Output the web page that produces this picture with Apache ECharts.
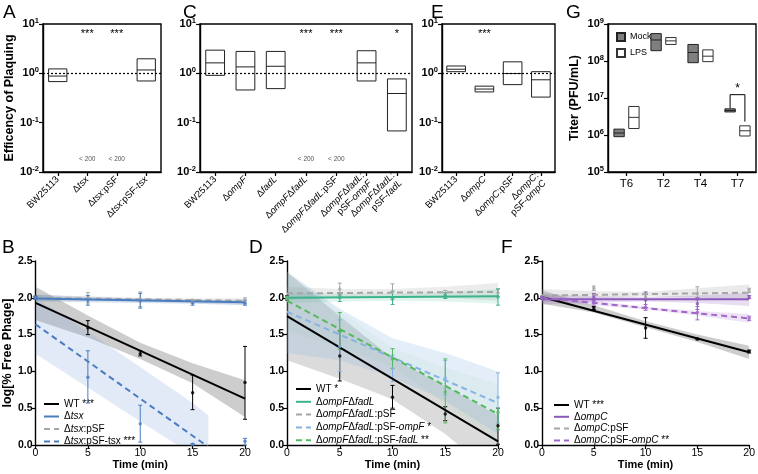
<!DOCTYPE html>
<html><head><meta charset="utf-8">
<script src="https://cdn.jsdelivr.net/npm/echarts@6/dist/echarts.min.js"></script>
<style>html,body{margin:0;padding:0;background:#fff}#c{width:758px;height:474px}</style>
</head><body><div id="c"></div>
<script>
const FONT = '"Liberation Sans", Arial, Helvetica, sans-serif';

// ===== Panel A (efficiency of plaquing) =====
const catA  = ['BW25113','Δtsx','Δtsx:pSF','Δtsx:pSF-tsx'];
const tickA = ['BW25113','Δ{i|tsx}','Δ{i|tsx}:pSF','Δ{i|tsx}:pSF-{i|tsx}'];
const topA  = [1.23, null, null, 1.97];
const medA  = [0.88, null, null, 1.17];
const botA  = [0.68, null, null, 0.70];
const starA = ['', '***', '***', ''];
const lodA  = ['', '< 200', '< 200', ''];

// ===== Panel C =====
const catC  = ['BW25113','ΔompF','ΔfadL','ΔompFΔfadL','ΔompFΔfadL:pSF','ΔompFΔfadL:pSF-ompF','ΔompFΔfadL:pSF-fadL'];
const tickC = ['BW25113','Δ{i|ompF}','Δ{i|fadL}','Δ{i|ompF}Δ{i|fadL}','Δ{i|ompF}Δ{i|fadL}:pSF','Δ{i|ompF}Δ{i|fadL}:\npSF-{i|ompF}','Δ{i|ompF}Δ{i|fadL}:\npSF-{i|fadL}'];
const topC  = [2.95, 2.78, 2.78, null, null, 2.87, 0.77];
const medC  = [1.63, 1.35, 1.39, null, null, 1.63, 0.39];
const botC  = [0.91, 0.46, 0.49, null, null, 0.70, 0.068];
const starC = ['', '', '', '***', '***', '', '*'];
const lodC  = ['', '', '', '< 200', '< 200', '', ''];

// ===== Panel E =====
const catE  = ['BW25113','ΔompC','ΔompC:pSF','ΔompC:pSF-ompC'];
const tickE = ['BW25113','Δ{i|ompC}','Δ{i|ompC}:pSF','Δ{i|ompC}:\npSF-{i|ompC}'];
const topE  = [1.41, 0.55, 1.71, 1.08];
const medE  = [1.21, 0.48, 0.99, 0.74];
const botE  = [1.08, 0.42, 0.59, 0.33];
const starE = ['', '***', '', ''];

// ===== Panel G (titer) =====
const catG    = ['T6','T2','T4','T7'];
const mockTop = [1.44e6, 5.5e8, 2.8e8, 5.1e6];
const mockMed = [1.13e6, 3.7e8, 1.7e8, 4.6e6];
const mockBot = [9.0e5, 1.9e8, 9.0e7, 4.2e6];
const lpsTop  = [5.9e6, 4.3e8, 2.0e8, 1.77e6];
const lpsMed  = [3.0e6, 3.5e8, 1.35e8, 1.3e6];
const lpsBot  = [1.5e6, 2.8e8, 9.6e7, 9.4e5];
const bracketCat = ['T7'];
const bracketY   = [[5.3e6, 1.23e7, 2.3e6]];
const bracketTxt = ['*'];

// ===== Bottom panels: time courses =====
const timePts = [0, 5, 10, 15, 20];
const fitT    = [0, 20];

// B
const B_wt = [2.00,1.59,1.24,0.71,0.85], B_wt_lo = [1.98,1.50,1.21,0.48,0.35], B_wt_hi = [2.02,1.69,1.28,0.95,1.34];
const B_wt_fit = [1.93,0.63], B_wt_ciLo = [1.70,1.46,1.17,0.84,0.38], B_wt_ciHi = [2.15,1.76,1.39,1.11,0.88];
const B_ts = [2.00,1.97,1.96,1.93,1.93], B_ts_lo = [1.98,1.90,1.86,1.90,1.90], B_ts_hi = [2.02,2.03,2.06,1.96,1.97];
const B_ts_fit = [1.99,1.94], B_ts_ciLo = [1.95,1.94,1.93,1.92,1.90], B_ts_ciHi = [2.04,2.01,1.99,1.97,1.97];
const B_ps = [2.00,2.00,1.98,1.96,1.96], B_ps_lo = [1.98,1.93,1.88,1.93,1.92], B_ps_hi = [2.02,2.07,2.08,1.98,2.00];
const B_ps_fit = [2.00,1.96], B_ps_ciLo = [1.96,1.96,1.95,1.93,1.91], B_ps_ciHi = [2.04,2.02,2.00,1.99,1.99];
const B_ct = [2.00,0.92,0.29,0.01,0.05], B_ct_lo = [1.98,0.57,0.04,0.00,0.00], B_ct_hi = [2.02,1.28,0.54,0.02,0.09];
const B_ct_fit = [1.64,-0.38];
const B_ct_ciT = [0,5,10,15,16.5], B_ct_ciLo = [1.24,0.78,0.32,-0.13,-0.27], B_ct_ciHi = [2.00,1.54,1.06,0.57,0.40];

// D
const D_wt = [2.00,1.21,0.65,0.42,0.26], D_wt_lo = [1.97,0.87,0.50,0.33,0.01], D_wt_hi = [2.03,1.55,0.81,0.52,0.50];
const D_wt_fit = [1.75,0.05], D_wt_ciLo = [1.15,0.90,0.62,0.15,-0.45], D_wt_ciHi = [2.35,1.75,1.18,0.80,0.40];
const D_dd = [2.00,2.00,1.99,2.03,2.01], D_dd_lo = [1.98,1.95,1.91,1.99,1.90], D_dd_hi = [2.02,2.05,2.09,2.07,2.12];
const D_dd_fit = [2.00,2.02], D_dd_ciLo = [1.93,1.95,1.96,1.95,1.92], D_dd_ciHi = [2.07,2.06,2.06,2.08,2.12];
const D_ps = [2.00,2.12,2.08,2.05,2.07], D_ps_lo = [1.98,2.03,1.97,2.00,2.02], D_ps_hi = [2.02,2.20,2.19,2.10,2.12];
const D_ps_fit = [2.06,2.08], D_ps_ciLo = [1.97,2.00,2.02,2.00,1.96], D_ps_ciHi = [2.15,2.12,2.12,2.15,2.20];
const D_of = [2.00,1.34,1.04,0.91,0.65], D_of_lo = [1.98,1.00,0.86,0.68,0.30], D_of_hi = [2.02,1.70,1.22,1.15,0.98];
const D_of_fit = [1.81,0.57], D_of_ciLo = [1.25,1.15,0.92,0.60,0.15], D_of_ciHi = [2.35,1.85,1.45,1.25,1.00];
const D_fl = [2.00,1.55,1.17,0.72,0.44], D_fl_lo = [1.98,1.30,1.04,0.30,0.21], D_fl_hi = [2.02,1.80,1.31,1.17,0.50];
const D_fl_fit = [1.96,0.42], D_fl_ciLo = [1.55,1.33,1.06,0.56,0.01], D_fl_ciHi = [2.37,1.82,1.32,1.05,0.83];

// F
const F_wt = [2.00,1.86,1.59,1.44,1.27], F_wt_lo = [1.98,1.84,1.45,1.43,1.25], F_wt_hi = [2.02,1.88,1.73,1.45,1.29];
const F_wt_fit = [2.01,1.26], F_wt_ciLo = [1.92,1.80,1.60,1.40,1.17], F_wt_ciHi = [2.10,1.90,1.68,1.50,1.35];
const F_oc = [2.00,2.01,1.97,1.92,2.01], F_oc_lo = [1.98,1.96,1.87,1.84,1.99], F_oc_hi = [2.02,2.06,2.08,2.00,2.03];
const F_oc_fit = [1.98,1.98], F_oc_ciLo = [1.91,1.94,1.95,1.93,1.89], F_oc_ciHi = [2.05,2.02,2.01,2.03,2.07];
const F_ps = [2.00,2.13,2.01,2.06,2.10], F_ps_lo = [1.98,2.10,1.97,1.97,2.07], F_ps_hi = [2.02,2.16,2.05,2.15,2.13];
const F_ps_fit = [2.03,2.07], F_ps_ciLo = [1.94,1.99,2.02,2.00,1.96], F_ps_ciHi = [2.12,2.09,2.08,2.13,2.18];
const F_cc = [2.00,1.94,1.87,1.80,1.72], F_cc_lo = [1.98,1.90,1.83,1.70,1.69], F_cc_hi = [2.02,1.98,1.91,1.88,1.75];
const F_cc_fit = [2.00,1.72], F_cc_ciLo = [1.96,1.90,1.84,1.76,1.66], F_cc_ciHi = [2.04,1.96,1.88,1.82,1.78];

// legend labels
const legB = ['WT ***', 'Δ{i|tsx}', 'Δ{i|tsx}:pSF', 'Δ{i|tsx}:pSF-tsx ***'];
const legD = ['WT *', 'Δ{i|ompF}Δ{i|fadL}', 'Δ{i|ompF}Δ{i|fadL}:pSF', 'Δ{i|ompF}Δ{i|fadL}:pSF-{i|ompF} *', 'Δ{i|ompF}Δ{i|fadL}:pSF-{i|fadL} **'];
const legF = ['WT ***', 'Δ{i|ompC}', 'Δ{i|ompC}:pSF', 'Δ{i|ompC}:pSF-{i|ompC} **'];

// ================= build =================
const chart = echarts.init(document.getElementById('c'), null, {renderer: 'canvas'});

const grids = [
  {left: 43,  top: 24, width: 118, height: 148},  // A
  {left: 200, top: 24, width: 212, height: 148},  // C
  {left: 442, top: 24, width: 113, height: 148},  // E
  {left: 608, top: 24, width: 148, height: 148},  // G
  {left: 33,  top: 261, width: 212, height: 184}, // B
  {left: 287, top: 261, width: 211, height: 184}, // D
  {left: 542, top: 261, width: 210, height: 184}  // F
].map((g, i) => Object.assign({show: i < 4, borderColor: '#000', borderWidth: 1.4, backgroundColor: 'transparent'}, g));

const axLine = {show: true, lineStyle: {color: '#000', width: 1.4}};
const axTick = {show: true, length: 4, lineStyle: {color: '#000', width: 1.2}};

function catX(gi, cats, ticks, fs) {
  return {
    type: 'category', gridIndex: gi, data: cats, boundaryGap: true,
    axisLine: axLine, axisTick: Object.assign({alignWithLabel: true}, axTick),
    axisLabel: {
      interval: 0, rotate: ticks ? 45 : 0, margin: ticks ? 6 : 6, fontFamily: FONT, fontSize: fs, color: '#000',
      lineHeight: fs + 1,
      formatter: (v, idx) => ticks ? ticks[idx] : v,
      rich: {i: {fontStyle: 'italic', fontFamily: FONT, fontSize: fs, color: '#000', lineHeight: fs + 1}}
    },
    splitLine: {show: false}
  };
}
function logY(gi, min, max, name, gap) {
  return {
    type: 'log', logBase: 10, gridIndex: gi, min, max,
    axisLine: axLine, axisTick: axTick, splitLine: {show: false}, minorTick: {show: false},
    name: name || '', nameLocation: 'middle', nameGap: gap || 0, nameRotate: 90,
    nameTextStyle: {fontFamily: FONT, fontSize: 12.5, fontWeight: 'bold', color: '#000'},
    axisLabel: {
      margin: 4, fontFamily: FONT, fontSize: 11, fontWeight: 'bold', color: '#000', lineHeight: 14,
      formatter: v => '10{s|' + Math.round(Math.log10(v)) + '}',
      rich: {s: {fontSize: 7.5, fontWeight: 'bold', fontFamily: FONT, color: '#000', verticalAlign: 'top', lineHeight: 9}}
    }
  };
}
function linX(gi) {
  return {
    type: 'value', gridIndex: gi, min: 0, max: 20, interval: 5,
    axisLine: axLine, axisTick: axTick, splitLine: {show: false},
    name: 'Time (min)', nameLocation: 'middle', nameGap: 14,
    nameTextStyle: {fontFamily: FONT, fontSize: 11, fontWeight: 'bold', color: '#000'},
    axisLabel: {margin: 3, fontFamily: FONT, fontSize: 10.5, color: '#000'}
  };
}
function linY(gi, name) {
  return {
    type: 'value', gridIndex: gi, min: 0, max: 2.5, interval: 0.5,
    axisLine: axLine, axisTick: axTick, splitLine: {show: false},
    name: name || '', nameLocation: 'middle', nameGap: 21, nameRotate: 90,
    nameTextStyle: {fontFamily: FONT, fontSize: 12.5, fontWeight: 'bold', color: '#000'},
    axisLabel: {margin: 3, fontFamily: FONT, fontSize: 10.5, fontWeight: 'bold', color: '#000', formatter: v => v.toFixed(1)}
  };
}

const xAxis = [
  catX(0, catA, tickA, 9.5), catX(1, catC, tickC, 9.5), catX(2, catE, tickE, 9.5), catX(3, catG, null, 11.5),
  linX(4), linX(5), linX(6)
];
const yAxis = [
  logY(0, 0.01, 10, 'Efficency of Plaquing', 22), logY(1, 0.01, 10), logY(2, 0.01, 10),
  logY(3, 1e5, 1e9, 'Titer (PFU/mL)', 27),
  linY(4, 'log[% Free Phage]'), linY(5), linY(6)
];

const series = [];

function boxSeries(gi, top, med, bot, o) {
  const data = [];
  top.forEach((t, i) => { if (t != null) data.push([i, t, med[i], bot[i]]); });
  const s = {
    type: 'custom', name: o.name, xAxisIndex: gi, yAxisIndex: gi, z: 3, silent: true,
    itemStyle: {color: o.fill, borderColor: o.stroke, borderWidth: 1},
    data,
    renderItem(params, api) {
      const x = api.value(0);
      const pT = api.coord([x, api.value(1)]);
      const pM = api.coord([x, api.value(2)]);
      const pB = api.coord([x, api.value(3)]);
      const bw = api.size([1, 1])[0];
      const cx = pT[0] + o.offset * bw, w = o.width * bw;
      return {type: 'group', children: [
        {type: 'rect', shape: {x: cx - w / 2, y: pT[1], width: w, height: pB[1] - pT[1]}, style: {fill: o.fill, stroke: o.stroke, lineWidth: 1}},
        {type: 'line', shape: {x1: cx - w / 2, y1: pM[1], x2: cx + w / 2, y2: pM[1]}, style: {stroke: o.stroke, lineWidth: 1}}
      ]};
    }
  };
  if (o.refLine) {
    s.markLine = {silent: true, symbol: 'none', label: {show: false}, animation: false,
      lineStyle: {type: [2, 2], color: '#000', width: 1.2}, data: [{yAxis: 1}]};
  }
  return s;
}
function textSeries(gi, texts, yVal, fs, color, bold) {
  const data = [];
  texts.forEach((t, i) => { if (t) data.push([i, yVal]); });
  return {
    type: 'custom', xAxisIndex: gi, yAxisIndex: gi, z: 6, silent: true, data,
    renderItem(params, api) {
      const i = api.value(0);
      const p = api.coord([i, api.value(1)]);
      return {type: 'text', x: p[0], y: p[1], style: {text: texts[i], fill: color, fontSize: fs, fontFamily: FONT, fontWeight: bold ? 'bold' : 'normal', align: 'center', verticalAlign: 'middle'}};
    }
  };
}

// top panels
series.push(boxSeries(0, topA, medA, botA, {offset: 0, width: 0.62, fill: 'rgba(255,255,255,0)', stroke: '#222', refLine: true}));
series.push(textSeries(0, starA, 6.3, 11, '#000', false));
series.push(textSeries(0, lodA, 0.018, 6.5, '#555', false));
series.push(boxSeries(1, topC, medC, botC, {offset: 0, width: 0.62, fill: 'rgba(255,255,255,0)', stroke: '#222', refLine: true}));
series.push(textSeries(1, starC, 6.3, 11, '#000', false));
series.push(textSeries(1, lodC, 0.018, 6.5, '#555', false));
series.push(boxSeries(2, topE, medE, botE, {offset: 0, width: 0.66, fill: 'rgba(255,255,255,0)', stroke: '#222', refLine: true}));
series.push(textSeries(2, starE, 6.3, 11, '#000', false));

series.push(boxSeries(3, mockTop, mockMed, mockBot, {name: 'Mock', offset: -0.2, width: 0.28, fill: '#7f7f7f', stroke: '#222'}));
series.push(boxSeries(3, lpsTop, lpsMed, lpsBot, {name: 'LPS', offset: 0.2, width: 0.28, fill: '#ffffff', stroke: '#333'}));
series.push({
  type: 'custom', xAxisIndex: 3, yAxisIndex: 3, z: 6, silent: true,
  data: bracketCat.map((c, k) => [catG.indexOf(c), bracketY[k][0], bracketY[k][1], bracketY[k][2]]),
  renderItem(params, api) {
    const x = api.value(0);
    const bw = api.size([1, 1])[0];
    const a = api.coord([x, api.value(1)]), t = api.coord([x, api.value(2)]), b = api.coord([x, api.value(3)]);
    const xl = a[0] - 0.2 * bw, xr = a[0] + 0.2 * bw;
    return {type: 'group', children: [
      {type: 'polyline', shape: {points: [[xl, a[1]], [xl, t[1]], [xr, t[1]], [xr, b[1]]]}, style: {stroke: '#000', lineWidth: 1, fill: null}},
      {type: 'text', x: a[0], y: t[1] - 6, style: {text: bracketTxt[params.dataIndex], fontSize: 12, fontFamily: FONT, fill: '#000', align: 'center', verticalAlign: 'middle'}}
    ]};
  }
});

// bottom panels
function bandSeries(gi, t, lo, hi, color) {
  return {
    type: 'custom', xAxisIndex: gi, yAxisIndex: gi, z: 1, silent: true,
    data: t.map((x, i) => [x, lo[i], hi[i]]),
    renderItem(params, api) {
      if (params.dataIndex !== 0) return;
      const pts = [];
      for (let i = 0; i < t.length; i++) pts.push(api.coord([t[i], hi[i]]));
      for (let i = t.length - 1; i >= 0; i--) pts.push(api.coord([t[i], lo[i]]));
      const cs = params.coordSys;
      return {type: 'polygon', shape: {points: pts}, style: {fill: color},
        clipPath: {type: 'rect', shape: {x: cs.x, y: cs.y, width: cs.width, height: cs.height}}};
    }
  };
}
function errSeries(gi, t, lo, hi, color) {
  return {
    type: 'custom', xAxisIndex: gi, yAxisIndex: gi, z: 4, silent: true,
    data: t.map((x, i) => [x, lo[i], hi[i]]),
    renderItem(params, api) {
      const a = api.coord([api.value(0), api.value(1)]), b = api.coord([api.value(0), api.value(2)]);
      const c = 2;
      return {type: 'group', children: [
        {type: 'line', shape: {x1: a[0], y1: a[1], x2: b[0], y2: b[1]}, style: {stroke: color, lineWidth: 1}},
        {type: 'line', shape: {x1: a[0] - c, y1: a[1], x2: a[0] + c, y2: a[1]}, style: {stroke: color, lineWidth: 1}},
        {type: 'line', shape: {x1: b[0] - c, y1: b[1], x2: b[0] + c, y2: b[1]}, style: {stroke: color, lineWidth: 1}}
      ]};
    }
  };
}
function addCurve(gi, name, color, dashed, mean, lo, hi, fit, ciT, ciLo, ciHi, bandColor) {
  series.push(bandSeries(gi, ciT, ciLo, ciHi, bandColor));
  series.push(errSeries(gi, timePts, lo, hi, color));
  series.push({
    type: 'line', name, xAxisIndex: gi, yAxisIndex: gi, z: 5, silent: true, symbol: 'none',
    data: fitT.map((x, i) => [x, fit[i]]),
    lineStyle: {color, width: 2, type: dashed ? [6, 4] : 'solid'}, itemStyle: {color}
  });
  series.push({
    type: 'scatter', xAxisIndex: gi, yAxisIndex: gi, z: 6, silent: true, symbol: 'circle', symbolSize: 3.5,
    data: timePts.map((x, i) => [x, mean[i]]), itemStyle: {color}
  });
}

const BLACK = '#000', GRAY = '#a6a6a6', BLUE = '#4a7dc0', LBLUE = '#86b3e3', TEAL = '#3bb48a', GREEN = '#55ba5e', PURPLE = '#8c58bb', LPURPLE = '#a066c9';

addCurve(4, 'B0', BLACK, false, B_wt, B_wt_lo, B_wt_hi, B_wt_fit, timePts, B_wt_ciLo, B_wt_ciHi, 'rgba(100,100,100,0.32)');
addCurve(4, 'B2', GRAY, true, B_ps, B_ps_lo, B_ps_hi, B_ps_fit, timePts, B_ps_ciLo, B_ps_ciHi, 'rgba(150,150,150,0.22)');
addCurve(4, 'B1', BLUE, false, B_ts, B_ts_lo, B_ts_hi, B_ts_fit, timePts, B_ts_ciLo, B_ts_ciHi, 'rgba(74,125,192,0.22)');
addCurve(4, 'B3', BLUE, true, B_ct, B_ct_lo, B_ct_hi, B_ct_fit, B_ct_ciT, B_ct_ciLo, B_ct_ciHi, 'rgba(120,160,215,0.22)');

addCurve(5, 'D0', BLACK, false, D_wt, D_wt_lo, D_wt_hi, D_wt_fit, timePts, D_wt_ciLo, D_wt_ciHi, 'rgba(110,110,110,0.25)');
addCurve(5, 'D2', GRAY, true, D_ps, D_ps_lo, D_ps_hi, D_ps_fit, timePts, D_ps_ciLo, D_ps_ciHi, 'rgba(150,150,150,0.18)');
addCurve(5, 'D1', TEAL, false, D_dd, D_dd_lo, D_dd_hi, D_dd_fit, timePts, D_dd_ciLo, D_dd_ciHi, 'rgba(59,180,138,0.15)');
addCurve(5, 'D3', LBLUE, true, D_of, D_of_lo, D_of_hi, D_of_fit, timePts, D_of_ciLo, D_of_ciHi, 'rgba(134,179,227,0.22)');
addCurve(5, 'D4', GREEN, true, D_fl, D_fl_lo, D_fl_hi, D_fl_fit, timePts, D_fl_ciLo, D_fl_ciHi, 'rgba(85,186,94,0.06)');

addCurve(6, 'F0', BLACK, false, F_wt, F_wt_lo, F_wt_hi, F_wt_fit, timePts, F_wt_ciLo, F_wt_ciHi, 'rgba(100,100,100,0.32)');
addCurve(6, 'F2', GRAY, true, F_ps, F_ps_lo, F_ps_hi, F_ps_fit, timePts, F_ps_ciLo, F_ps_ciHi, 'rgba(150,150,150,0.2)');
addCurve(6, 'F1', PURPLE, false, F_oc, F_oc_lo, F_oc_hi, F_oc_fit, timePts, F_oc_ciLo, F_oc_ciHi, 'rgba(140,88,187,0.2)');
addCurve(6, 'F3', LPURPLE, true, F_cc, F_cc_lo, F_cc_hi, F_cc_fit, timePts, F_cc_ciLo, F_cc_ciHi, 'rgba(160,102,201,0.18)');

function lineLegend(prefix, labels, left, top, gap) {
  return {
    orient: 'vertical', left, top, itemWidth: 15, itemHeight: 10, itemGap: gap, selectedMode: false,
    itemStyle: {opacity: 0, color: 'rgba(0,0,0,0)', borderWidth: 0},
    data: labels.map((_, i) => prefix + i),
    formatter: n => labels[+n.slice(1)],
    textStyle: {fontFamily: FONT, fontSize: 10, color: '#000',
      rich: {i: {fontStyle: 'italic', fontFamily: FONT, fontSize: 10, color: '#000'}}}
  };
}
const legend = [
  lineLegend('B', legB, 38, 394, 2.5),
  lineLegend('D', legD, 290, 379, 2.8),
  lineLegend('F', legF, 548, 395, 1.8),
  {orient: 'vertical', left: 611, top: 27, itemWidth: 8, itemHeight: 8, itemGap: 6, icon: 'rect', selectedMode: false,
   data: ['Mock', 'LPS'], textStyle: {fontFamily: FONT, fontSize: 9, color: '#000'}}
];

const letters = [['A', 3, 3], ['C', 183, 3], ['E', 431, 3], ['G', 566, 3], ['B', 2, 238], ['D', 249, 238], ['F', 501, 238]];
const title = letters.map(l => ({text: l[0], left: l[1], top: l[2], padding: 0,
  textStyle: {fontFamily: FONT, fontSize: 19, fontWeight: 'normal', color: '#000'}}));

chart.setOption({
  animation: false, backgroundColor: '#fff',
  title, grid: grids, xAxis, yAxis, legend, series
});
</script></body></html>
